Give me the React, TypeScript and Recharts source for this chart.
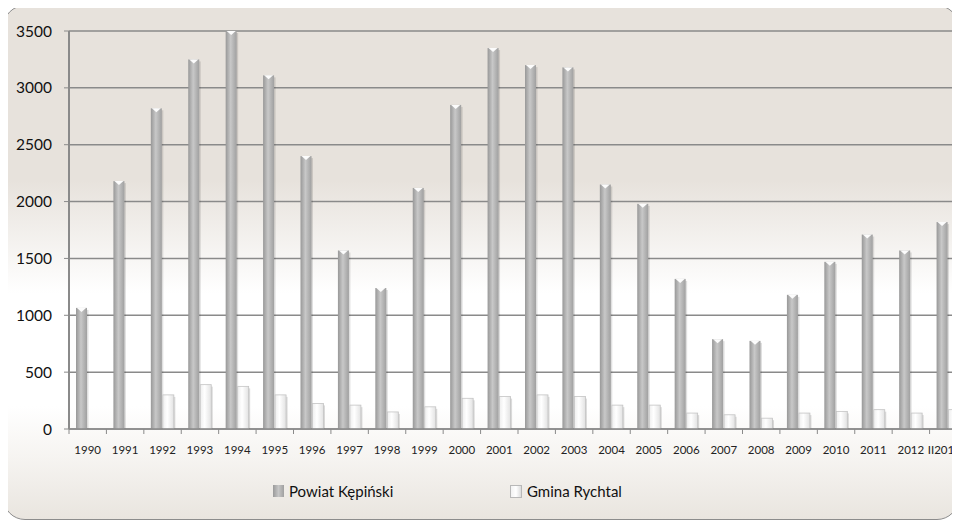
import React from "react";
import { BarChart, Bar, XAxis, YAxis, CartesianGrid, Legend } from "recharts";

const years = ["1990","1991","1992","1993","1994","1995","1996","1997","1998","1999","2000","2001","2002","2003","2004","2005","2006","2007","2008","2009","2010","2011","2012","II2013"];
const powiatKepinski = [1065,2180,2820,3250,3500,3110,2400,1570,1240,2120,2850,3350,3200,3180,2150,1980,1320,790,775,1180,1470,1710,1570,1820];
const gminaRychtal = [0,0,300,390,375,300,225,210,150,195,270,285,300,285,210,210,140,125,95,140,155,170,140,170];
const yTicks = [0,500,1000,1500,2000,2500,3000,3500];
const seriesNames = ["Powiat Kępiński", "Gmina Rychtal"];

const data = years.map((y, i) => ({ year: y, powiat: powiatKepinski[i], gmina: gminaRychtal[i] }));

const FONT = "Lato, 'Open Sans', sans-serif";

const PowiatShape = (props: any) => {
  const { x, y, width, height } = props;
  if (!height || height <= 0) return null;
  const cx = x + width / 2;
  return (
    <g>
      <rect x={x + 1.5} y={y + 2} width={width} height={height - 2} fill="#000" opacity={0.12} />
      <rect x={x} y={y} width={width} height={height} fill="url(#gradPowiat)" />
      <polygon points={`${x + 1},${y} ${x + width - 1},${y} ${cx},${y + 4}`} fill="#ffffff" opacity={0.95} />
    </g>
  );
};

const GminaShape = (props: any) => {
  const { x, y, width, height } = props;
  if (!height || height <= 0) return null;
  return (
    <g>
      <rect x={x + 1.5} y={y + 2} width={width} height={height - 2} fill="#000" opacity={0.14} />
      <rect x={x} y={y} width={width} height={height} fill="url(#gradGmina)" stroke="#c4c4c4" strokeWidth={0.8} />
    </g>
  );
};

const XTick = (props: any) => {
  const { x, payload, index } = props;
  const half = payload && payload.offset ? payload.offset : 18.7;
  const axisY = 429;
  const isLast = index === years.length - 1;
  return (
    <g>
      <line x1={x - half} x2={x - half} y1={axisY} y2={axisY + 5} stroke="#8a8a8a" strokeWidth={1} />
      <text x={isLast ? x - 4 : x} y={axisY + 25} textAnchor="middle" fontSize={11.5} fontFamily={FONT} fill="#222">
        {payload.value}
      </text>
    </g>
  );
};

const LegendContent = () => (
  <div style={{ position: "relative", height: 55, fontFamily: FONT, fontSize: 15, color: "#111" }}>
    <div style={{ position: "absolute", left: 264, top: 13, display: "flex", alignItems: "center" }}>
      <span style={{ display: "inline-block", width: 11, height: 12, background: "linear-gradient(90deg,#9a9a9a,#c6c6c6,#a0a0a0)", marginRight: 5 }} />
      <span>{seriesNames[0]}</span>
    </div>
    <div style={{ position: "absolute", left: 501, top: 13, display: "flex", alignItems: "center" }}>
      <span style={{ display: "inline-block", width: 12, height: 13, background: "linear-gradient(90deg,#f2f2f2,#ffffff,#dcdcdc)", border: "1px solid #b8b8b8", boxSizing: "border-box", marginRight: 5 }} />
      <span>{seriesNames[1]}</span>
    </div>
  </div>
);

export default function App() {
  return (
    <div style={{ position: "relative", width: 960, height: 524, margin: "-8px 0 0 -8px", overflow: "hidden" }}>
      <div
        style={{
          position: "absolute",
          left: 3,
          top: 5,
          width: 956,
          height: 515,
          borderRadius: 22,
          border: "1px solid #8c8c8c",
          background: "linear-gradient(180deg, #e7e2dc 0%, #e7e2dc 34%, #ffffff 56%, #ffffff 78%, #f6f4f1 88%, #e9e5df 100%)",
          boxSizing: "border-box",
        }}
      />
      <div style={{ position: "absolute", left: 0, top: 0 }}>
        <BarChart
          width={1000}
          height={524}
          data={data}
          margin={{ top: 31, right: 33, left: 9, bottom: 0 }}
          barSize={11}
          barGap={1}
        >
          <defs>
            <linearGradient id="gradPowiat" x1="0" y1="0" x2="1" y2="0">
              <stop offset="0%" stopColor="#989898" />
              <stop offset="45%" stopColor="#c8c8c8" />
              <stop offset="100%" stopColor="#a0a0a0" />
            </linearGradient>
            <linearGradient id="gradGmina" x1="0" y1="0" x2="1" y2="0">
              <stop offset="0%" stopColor="#eeeeee" />
              <stop offset="40%" stopColor="#ffffff" />
              <stop offset="100%" stopColor="#e2e2e2" />
            </linearGradient>
          </defs>
          <CartesianGrid vertical={false} stroke="#8a8a8a" strokeWidth={1.5} />
          <XAxis
            dataKey="year"
            height={40}
            interval={0}
            tickLine={false}
            axisLine={{ stroke: "#8a8a8a", strokeWidth: 1.5 }}
            tick={<XTick />}
          />
          <YAxis
            width={60}
            domain={[0, 3500]}
            ticks={yTicks}
            tickSize={5}
            tickMargin={12}
            tickLine={{ stroke: "#8a8a8a" }}
            axisLine={{ stroke: "#8a8a8a", strokeWidth: 2 }}
            tick={{ fontSize: 15.5, fontFamily: FONT, fill: "#111" }}
          />
          <Legend verticalAlign="bottom" height={55} content={<LegendContent />} />
          <Bar dataKey="powiat" name={seriesNames[0]} shape={<PowiatShape />} isAnimationActive={false} />
          <Bar dataKey="gmina" name={seriesNames[1]} shape={<GminaShape />} isAnimationActive={false} />
        </BarChart>
      </div>
    </div>
  );
}
